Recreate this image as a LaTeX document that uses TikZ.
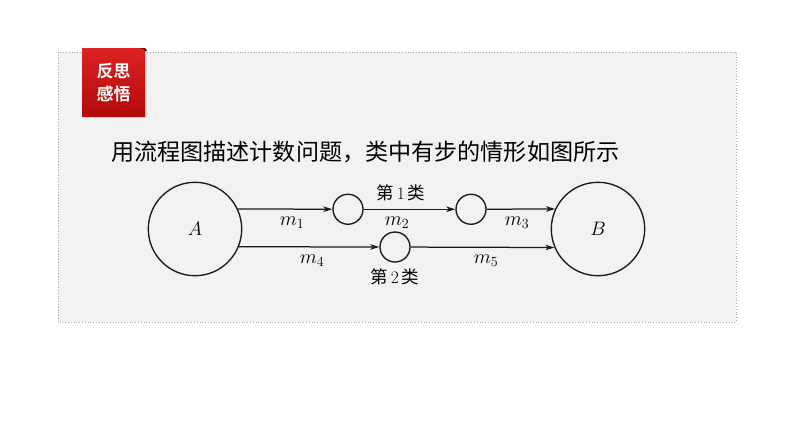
\RequirePackage{fix-cm}
\documentclass[tikz,border=0pt]{standalone}
\usepackage{fontspec}
\newfontfamily\cjk{Noto Sans CJK SC}
\newfontfamily\cjkb{Noto Sans CJK SC Bold}
\usetikzlibrary{arrows.meta,calc}
\definecolor{panelbg}{HTML}{F2F2F2}
\definecolor{dotcol}{HTML}{9AAFB8}
\definecolor{badgetop}{HTML}{DC2222}
\definecolor{badgebot}{HTML}{B30A0A}
\definecolor{badgefold}{HTML}{4A0808}
\definecolor{ink}{HTML}{1A1A1A}
\begin{document}
\begin{tikzpicture}[x=1pt,y=-1pt,
  big/.style={circle,draw=ink,line width=1.35pt,minimum size=93.4pt,inner sep=0pt,font=\fontsize{19.5}{22}\selectfont},
  small/.style={circle,draw=ink,line width=1.35pt,minimum size=30pt,inner sep=0pt},
  arr/.style={draw=ink,line width=1.25pt,-{Stealth[length=9pt,width=5.5pt,inset=2.5pt]}},
  mlab/.style={inner sep=0pt,font=\fontsize{20}{22}\selectfont},
  clab/.style={inner sep=0pt,font=\fontsize{17.5}{19}\selectfont}]
\useasboundingbox (0,0) rectangle (794,447);
\fill[white] (0,0) rectangle (794,447);
% panel
\fill[panelbg] (58,52) rectangle (736,322);
\draw[dotcol,line width=0.8pt,dotted] (58,52) rectangle (736,322);
% badge
\fill[black!25,opacity=0.5] (83,50) rectangle (146.5,117.5);
\shade[top color=badgetop,bottom color=badgebot] (82,48) rectangle (145,116);
\fill[badgefold] (139,48) -- (144,48) .. controls (146,48.5) .. (147,51) -- (145,51) .. controls (144.5,49) .. (139,48) -- cycle;
\node[text=white,align=center,inner sep=0pt,font=\cjkb\fontsize{17}{23}\selectfont] (badge) at (113.5,82.5) {反思\\感悟};
% title
\node[anchor=west,inner sep=0pt,font=\cjk\fontsize{23.1}{26}\selectfont] (title) at (111,152) {用流程图描述计数问题，类中有步的情形如图所示};
% diagram
\node[big] (A) at (195,229) {$A$};
\node[big] (B) at (598,229) {$B$};
\node[small] (c1) at (348,209.26) {};
\node[small] (c3) at (471,209.26) {};
\node[small] (c2) at (395,247.02) {};
\draw[arr] (A.25) -- (c1);
\draw[arr] (c1) -- (c3);
\draw[arr] (c3) -- (B.155);
\draw[arr] (A.-22.7) -- (c2);
\draw[arr] (c2) -- (B.-157.3);
\node[mlab] (m1) at (292,223) {$m_1$};
\node[mlab] (m2) at (397,223) {$m_2$};
\node[mlab] (m3) at (517,223) {$m_3$};
\node[mlab] (m4) at (312,261) {$m_4$};
\node[mlab] (m5) at (486,261) {$m_5$};
\node[clab] (k1) at (401,193) {{\cjk 第}\,1\,{\cjk 类}};
\node[clab] (k2) at (395,277) {{\cjk 第}\,2\,{\cjk 类}};
\end{tikzpicture}
\end{document}
